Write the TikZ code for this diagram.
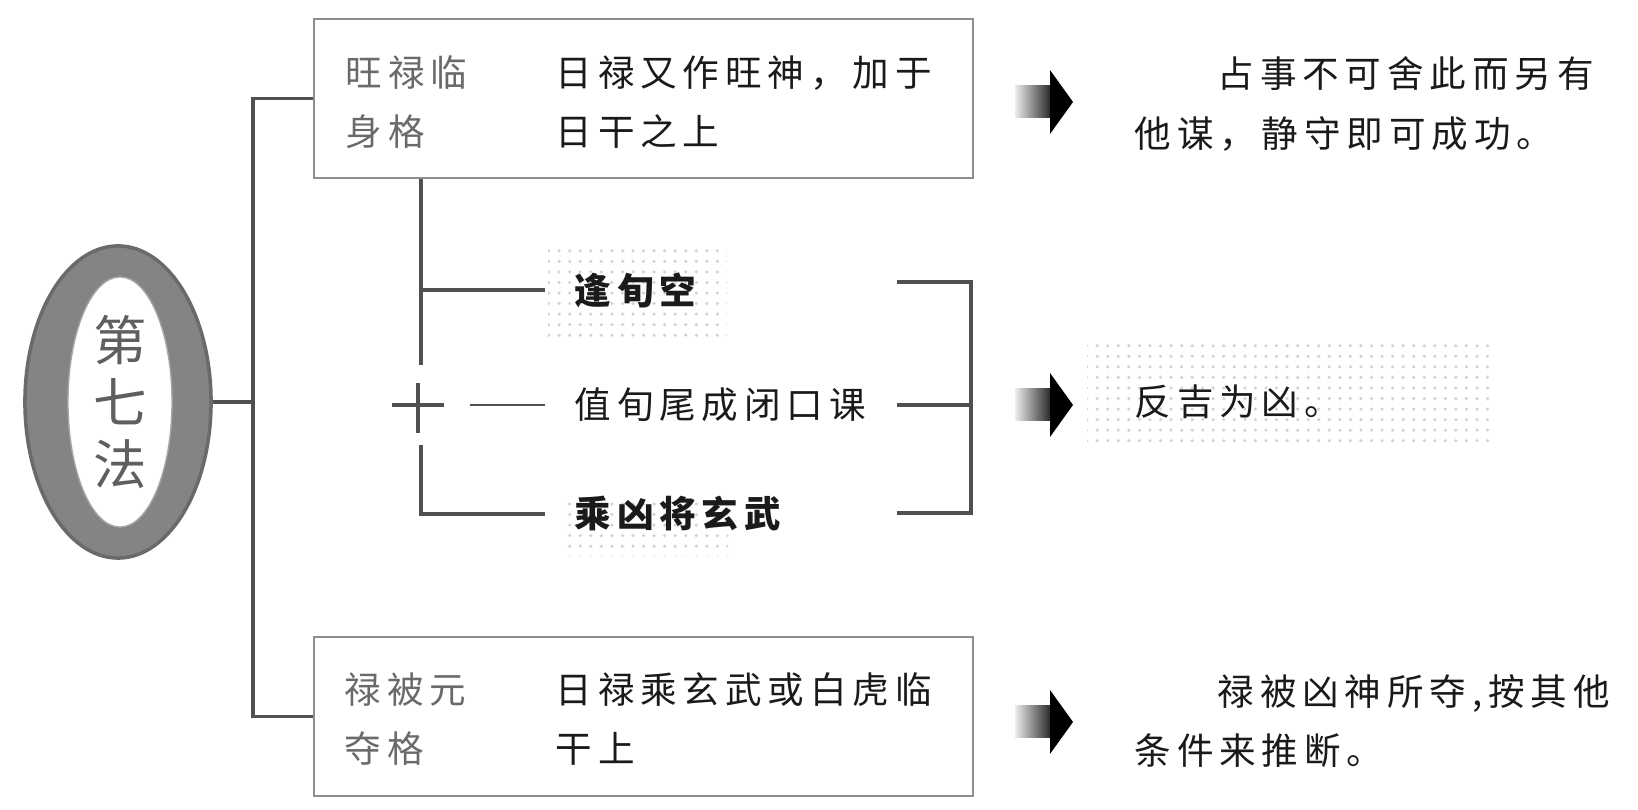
\documentclass[tikz,border=0pt]{standalone}
\usepackage{fontspec}
\newfontfamily\cjk[LetterSpace=16]{Noto Sans CJK SC}
\newfontfamily\cjkplain{Noto Sans CJK SC}
\usetikzlibrary{positioning,shapes.geometric,patterns}

\definecolor{linegray}{HTML}{505050}
\definecolor{framegray}{HTML}{8E8E8E}
\definecolor{namegray}{HTML}{6A6A6A}
\definecolor{inkblack}{HTML}{1A1A1A}
\definecolor{ringgray}{HTML}{848484}

\tikzset{
	branch/.style={draw=linegray, line width=0.9pt},
	rulebox/.style={draw=framegray, line width=0.6pt, rectangle, minimum width=6.59cm, minimum height=1.59cm, inner sep=0pt},
	cjktext/.style={font=\cjk\fontsize{10.4}{16.8}\selectfont, align=left, anchor=west, inner sep=0pt, text=inkblack},
	namecell/.style={cjktext, text=namegray},
	condition/.style={cjktext, inner xsep=0.29cm, inner ysep=0pt},
	noise/.style={pattern=dots, pattern color=gray!35},
	fatarrow/.pic={
		\shade[left color=gray!15, right color=black!85] (0,-16) rectangle (36,16);
		\fill[black] (35,-32) -- (58,0) -- (35,32) -- cycle;
	}
}

\begin{document}
\begin{tikzpicture}[x=0.01cm, y=-0.01cm]
	\useasboundingbox (0,0) rectangle (1638,810);
	% Noise patches behind texts
	\fill[noise] (548,250) rectangle (727,338);
	\fill[noise] (563,498) rectangle (728,556);
	\fill[noise] (1087,345) rectangle (1494,449);
	% Method ellipse
	\node[ellipse, fill=ringgray, draw=ringgray!80!black, line width=1pt, minimum width=1.86cm, minimum height=3.12cm] (ring) at (118,402) {};
	\node[ellipse, fill=white, draw=gray!70, minimum width=1.04cm, minimum height=2.5cm, inner sep=0pt, align=center, text=namegray!90!black, font=\cjkplain\fontsize{15.2}{17.6}\selectfont] (method) at (120,402) {第\\七\\法};
	% Trunk
	\coordinate (trunk) at (253,402);
	\draw[branch] (ring.east) -- (trunk);
	% Upper and lower boxes
	\node[rulebox] (wanglu) at (643.5,98.5) {};
	\node[rulebox] (lubei) at (643.5,716.5) {};
	\draw[branch] (wanglu.west) -| (trunk) |- (lubei.west);
	% Texts in the upper box
	\node[namecell] (wangname) at (345,102) {旺禄临\\身格};
	\node[cjktext] (wangdesc) at (555,102) {日禄又作旺神，加于\\日干之上};
	% Texts in the lower box
	\node[namecell] (luname) at (344,719) {禄被元\\夺格};
	\node[cjktext] (ludesc) at (555,719) {日禄乘玄武或白虎临\\干上};
	% Conditions
	\node[condition, font=\cjk\bfseries\fontsize{10.4}{16.8}\selectfont] (kong) at (545,290) {逢旬空};
	\node[condition] (zhi) at (545,405) {值旬尾成闭口课};
	\node[condition, font=\cjk\bfseries\fontsize{10.4}{16.8}\selectfont] (cheng) at (545,514) {乘凶将玄武};
	% Left branches
	\coordinate (drop) at (421,365);
	\coordinate (rise) at (421,445);
	\draw[branch] (421,0 |- wanglu.south) -- (drop);
	\draw[branch] (421,290) -- (kong.west);
	\draw[branch] (rise) |- (cheng.west);
	\coordinate (crossw) at (392,405);
	\coordinate (crosse) at (444,405);
	\coordinate (crossn) at (418,383);
	\coordinate (crosss) at (418,433);
	\draw[branch] (crossw) -- (crosse) (crossn) -- (crosss);
	\coordinate (zhitail) at (470,405);
	\draw[draw=linegray, line width=0.5pt] (zhitail) -- (zhi.west);
	% Right bracket
	\coordinate (brtop) at (897,282);
	\coordinate (brmid) at (897,405);
	\coordinate (brbot) at (897,513);
	\coordinate (brjoin) at (971,405);
	\draw[branch] (brtop) -| (brjoin) |- (brbot);
	\draw[branch] (brmid) -- (brjoin);
	% Arrows
	\pic (arrowa) at (1015,102) {fatarrow};
	\pic (arrowb) at (1015,405) {fatarrow};
	\pic (arrowc) at (1015,722) {fatarrow};
	% Results
	\node[cjktext] (resa) at (1134,104) {\hspace*{0.83cm}占事不可舍此而另有\\他谋，静守即可成功。};
	\node[cjktext] (resb) at (1134,402) {反吉为凶。};
	\node[cjktext] (resc) at (1134,721) {\hspace*{0.83cm}禄被凶神所夺,按其他\\条件来推断。};
\end{tikzpicture}
\end{document}
